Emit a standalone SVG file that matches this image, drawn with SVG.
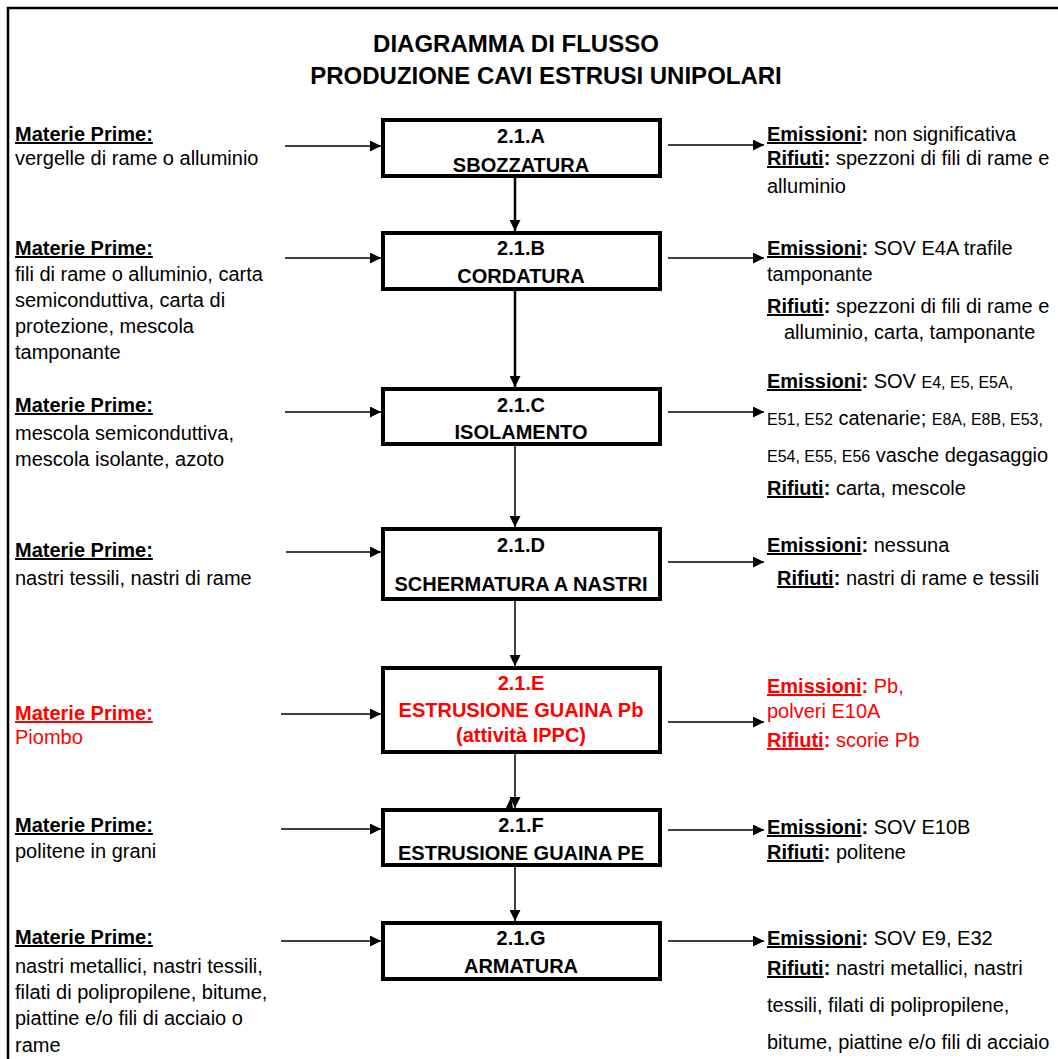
<svg xmlns="http://www.w3.org/2000/svg" width="1058" height="1059" viewBox="0 0 1058 1059">
<style>
.t{font-family:"Liberation Sans",Arial,sans-serif;font-size:20px;fill:#000}
.b{font-weight:bold}
.s{font-size:16px}
.u{text-decoration:underline}
.red{fill:#f00}
.m{text-anchor:middle}
.box{fill:#fff;stroke:#000;stroke-width:4}
.c{stroke:#000;stroke-width:1.5;fill:none}
.ck{stroke-width:2.5}
</style>
<defs>
<marker id="ah" markerUnits="userSpaceOnUse" markerWidth="11" markerHeight="11" refX="11" refY="5.5" orient="auto"><path d="M0,0 L11,5.5 L0,11 z" fill="#000"/></marker>
</defs>
<rect width="1058" height="1059" fill="#fff"/>
<path d="M8,1059 V8 H1058" fill="none" stroke="#000" stroke-width="2.5"/>
<g id="title">
<text class="t b m" x="516" y="52" style="font-size:24px">DIAGRAMMA DI FLUSSO</text>
<text class="t b m" x="546" y="84" style="font-size:24px">PRODUZIONE CAVI ESTRUSI UNIPOLARI</text>
</g>
<g id="connectors">
<line class="c ck" x1="515" y1="178" x2="515" y2="231" marker-end="url(#ah)"/>
<line class="c ck" x1="515" y1="291" x2="515" y2="387" marker-end="url(#ah)"/>
<line class="c" x1="515" y1="446" x2="515" y2="527" marker-end="url(#ah)"/>
<line class="c" x1="515" y1="601" x2="515" y2="666" marker-end="url(#ah)"/>
<path d="M506,808 L511,797 L513,808 z" fill="#000"/>
<line class="c" x1="515" y1="754" x2="515" y2="808" marker-end="url(#ah)"/>
<line class="c" x1="515" y1="867" x2="515" y2="921" marker-end="url(#ah)"/>
<line class="c" x1="285" y1="146" x2="381" y2="146" marker-end="url(#ah)"/>
<line class="c" x1="285" y1="258" x2="381" y2="258" marker-end="url(#ah)"/>
<line class="c" x1="285" y1="412" x2="381" y2="412" marker-end="url(#ah)"/>
<line class="c" x1="286" y1="552" x2="381" y2="552" marker-end="url(#ah)"/>
<line class="c" x1="281" y1="714" x2="381" y2="714" marker-end="url(#ah)"/>
<line class="c" x1="281" y1="829" x2="381" y2="829" marker-end="url(#ah)"/>
<line class="c" x1="281" y1="941" x2="381" y2="941" marker-end="url(#ah)"/>
<line class="c" x1="668" y1="145" x2="764" y2="145" marker-end="url(#ah)"/>
<line class="c" x1="668" y1="258" x2="764" y2="258" marker-end="url(#ah)"/>
<line class="c" x1="668" y1="412" x2="764" y2="412" marker-end="url(#ah)"/>
<line class="c" x1="668" y1="562" x2="764" y2="562" marker-end="url(#ah)"/>
<line class="c" x1="668" y1="722" x2="764" y2="722" marker-end="url(#ah)"/>
<line class="c" x1="668" y1="830" x2="764" y2="830" marker-end="url(#ah)"/>
<line class="c" x1="668" y1="941" x2="764" y2="941" marker-end="url(#ah)"/>
</g>
<g id="node-A">
<rect class="box" x="383" y="120" width="277" height="56"/>
<text class="t b m" x="521" y="143">2.1.A</text>
<text class="t b m" x="521" y="172">SBOZZATURA</text>
</g>
<g id="node-B">
<rect class="box" x="383" y="233" width="277" height="56"/>
<text class="t b m" x="521" y="255">2.1.B</text>
<text class="t b m" x="521" y="283">CORDATURA</text>
</g>
<g id="node-C">
<rect class="box" x="383" y="389" width="277" height="55"/>
<text class="t b m" x="521" y="412">2.1.C</text>
<text class="t b m" x="521" y="439">ISOLAMENTO</text>
</g>
<g id="node-D">
<rect class="box" x="383" y="529" width="277" height="70"/>
<text class="t b m" x="521" y="552">2.1.D</text>
<text class="t b m" x="521" y="591">SCHERMATURA A NASTRI</text>
</g>
<g id="node-E">
<rect class="box" x="383" y="668" width="277" height="84"/>
<text class="t b m red" x="521" y="690">2.1.E</text>
<text class="t b m red" x="521" y="717">ESTRUSIONE GUAINA Pb</text>
<text class="t b m red" x="521" y="742">(attività IPPC)</text>
</g>
<g id="node-F">
<rect class="box" x="383" y="810" width="277" height="55"/>
<text class="t b m" x="521" y="832">2.1.F</text>
<text class="t b m" x="521" y="860">ESTRUSIONE GUAINA PE</text>
</g>
<g id="node-G">
<rect class="box" x="383" y="923" width="277" height="56"/>
<text class="t b m" x="521" y="945">2.1.G</text>
<text class="t b m" x="521" y="973">ARMATURA</text>
</g>
<g id="inputs">
<text class="t b u" x="15" y="141">Materie Prime:</text>
<text class="t" x="15" y="165">vergelle di rame o alluminio</text>
<text class="t b u" x="15" y="255">Materie Prime:</text>
<text class="t" x="15" y="281">fili di rame o alluminio, carta</text>
<text class="t" x="15" y="307">semiconduttiva, carta di</text>
<text class="t" x="15" y="333">protezione, mescola</text>
<text class="t" x="15" y="359">tamponante</text>
<text class="t b u" x="15" y="412">Materie Prime:</text>
<text class="t" x="15" y="440">mescola semiconduttiva,</text>
<text class="t" x="15" y="466">mescola isolante, azoto</text>
<text class="t b u" x="15" y="557">Materie Prime:</text>
<text class="t" x="15" y="585">nastri tessili, nastri di rame</text>
<text class="t b u red" x="15" y="720">Materie Prime:</text>
<text class="t red" x="15" y="744">Piombo</text>
<text class="t b u" x="15" y="832">Materie Prime:</text>
<text class="t" x="15" y="858">politene in grani</text>
<text class="t b u" x="15" y="944">Materie Prime:</text>
<text class="t" x="15" y="973">nastri metallici, nastri tessili,</text>
<text class="t" x="15" y="999">filati di polipropilene, bitume,</text>
<text class="t" x="15" y="1025">piattine e/o fili di acciaio o</text>
<text class="t" x="15" y="1052">rame</text>
</g>
<g id="outputs">
<text class="t" x="767" y="141"><tspan class="b u">Emissioni</tspan><tspan class="b">:</tspan> non significativa</text>
<text class="t" x="767" y="165"><tspan class="b u">Rifiuti</tspan><tspan class="b">:</tspan> spezzoni di fili di rame e</text>
<text class="t" x="767" y="193">alluminio</text>
<text class="t" x="767" y="255"><tspan class="b u">Emissioni</tspan><tspan class="b">:</tspan> SOV E4A trafile</text>
<text class="t" x="767" y="281">tamponante</text>
<text class="t" x="767" y="313"><tspan class="b u">Rifiuti</tspan><tspan class="b">:</tspan> spezzoni di fili di rame e</text>
<text class="t" x="784" y="339">alluminio, carta, tamponante</text>
<text class="t" x="767" y="388"><tspan class="b u">Emissioni</tspan><tspan class="b">:</tspan> SOV <tspan class="s">E4, E5, E5A,</tspan></text>
<text class="t" x="767" y="425"><tspan class="s">E51, E52</tspan> catenarie; <tspan class="s">E8A, E8B, E53,</tspan></text>
<text class="t" x="767" y="462"><tspan class="s">E54, E55, E56</tspan> vasche degasaggio</text>
<text class="t" x="767" y="495"><tspan class="b u">Rifiuti</tspan><tspan class="b">:</tspan> carta, mescole</text>
<text class="t" x="767" y="552"><tspan class="b u">Emissioni</tspan><tspan class="b">:</tspan> nessuna</text>
<text class="t" x="777" y="585"><tspan class="b u">Rifiuti</tspan><tspan class="b">:</tspan> nastri di rame e tessili</text>
<text class="t red" x="767" y="693"><tspan class="b u">Emissioni</tspan><tspan class="b">:</tspan> Pb,</text>
<text class="t red" x="767" y="718">polveri E10A</text>
<text class="t red" x="767" y="747"><tspan class="b u">Rifiuti</tspan><tspan class="b">:</tspan> scorie Pb</text>
<text class="t" x="767" y="834"><tspan class="b u">Emissioni</tspan><tspan class="b">:</tspan> SOV E10B</text>
<text class="t" x="767" y="859"><tspan class="b u">Rifiuti</tspan><tspan class="b">:</tspan> politene</text>
<text class="t" x="767" y="945"><tspan class="b u">Emissioni</tspan><tspan class="b">:</tspan> SOV E9, E32</text>
<text class="t" x="767" y="975"><tspan class="b u">Rifiuti</tspan><tspan class="b">:</tspan> nastri metallici, nastri</text>
<text class="t" x="767" y="1012">tessili, filati di polipropilene,</text>
<text class="t" x="767" y="1049">bitume, piattine e/o fili di acciaio</text>
</g>
</svg>
